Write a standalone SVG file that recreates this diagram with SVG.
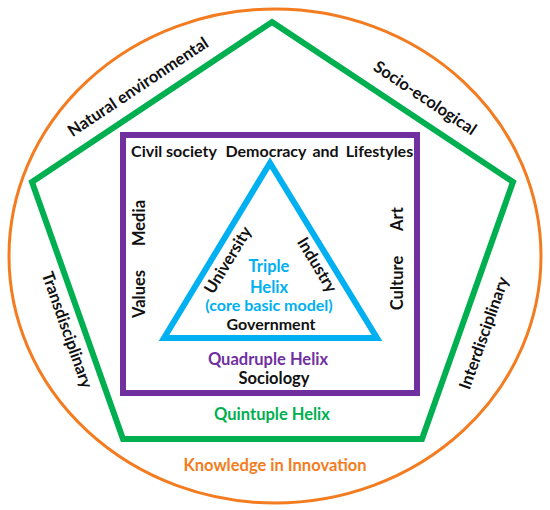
<svg xmlns="http://www.w3.org/2000/svg" width="550" height="510" viewBox="0 0 550 510">
<style>
text{font-family:Lato,"Open Sans","Liberation Sans",sans-serif;font-weight:bold;font-size:16.5px;fill:#111}
.c{text-anchor:middle}
.s{font-size:16px}
.blue{fill:#00B0F0}.purple{fill:#7030A0}.green{fill:#00B050}.orange{fill:#F47C20}
.shape{fill:none;stroke-linejoin:miter}
</style>
<rect width="550" height="510" fill="#fff"/>
<g id="knowledge">
<ellipse class="shape" cx="275" cy="256" rx="266" ry="247" stroke="#F47C20" stroke-width="3"/>
<text class="c orange" x="275" y="471">Knowledge in Innovation</text>
<text class="c" transform="translate(138,87) rotate(-33.7)" y="5.5">Natural environmental</text>
<text class="c" transform="translate(425,98) rotate(33.7)" y="5.5">Socio-ecological</text>
<text class="c" transform="translate(67,330) rotate(70.5)" y="5.5">Transdisciplinary</text>
<text class="c" transform="translate(484,333) rotate(-70.5)" y="5.5">Interdisciplinary</text>
</g>
<g id="quintuple">
<polygon class="shape" points="272,22 513,182 422,439 123,439 32,182" stroke="#00B050" stroke-width="6"/>
<text class="c green" x="272" y="420">Quintuple Helix</text>
</g>
<g id="quadruple">
<rect class="shape" x="123" y="135" width="294" height="258" stroke="#7030A0" stroke-width="6"/>
<text class="c s" x="174" y="157">Civil society</text>
<text class="c s" x="266" y="157">Democracy</text>
<text class="c s" x="325.5" y="157">and</text>
<text class="c s" x="379.5" y="157">Lifestyles</text>
<text class="c" transform="translate(145,223) rotate(-90)">Media</text>
<text class="c" transform="translate(145,294) rotate(-90)">Values</text>
<text class="c" transform="translate(403,219) rotate(-90)">Art</text>
<text class="c" transform="translate(403,283) rotate(-90)">Culture</text>
<text class="c purple" x="268" y="364.5">Quadruple Helix</text>
<text class="c" x="274" y="383.5">Sociology</text>
</g>
<g id="triple">
<polygon class="shape" points="270,163 377,338 164,338" stroke="#00B0F0" stroke-width="6"/>
<text class="c" transform="translate(228,260) rotate(-58.8)" y="5.5">University</text>
<text class="c" transform="translate(317,265) rotate(58.8)" y="5.5">Industry</text>
<text class="c blue" x="269" y="272">Triple</text>
<text class="c blue" x="269" y="292.5">Helix</text>
<text class="c blue s" x="269" y="311">(core basic model)</text>
<text class="c s" x="271" y="330">Government</text>
</g>
<g id="connectors"></g>
</svg>
